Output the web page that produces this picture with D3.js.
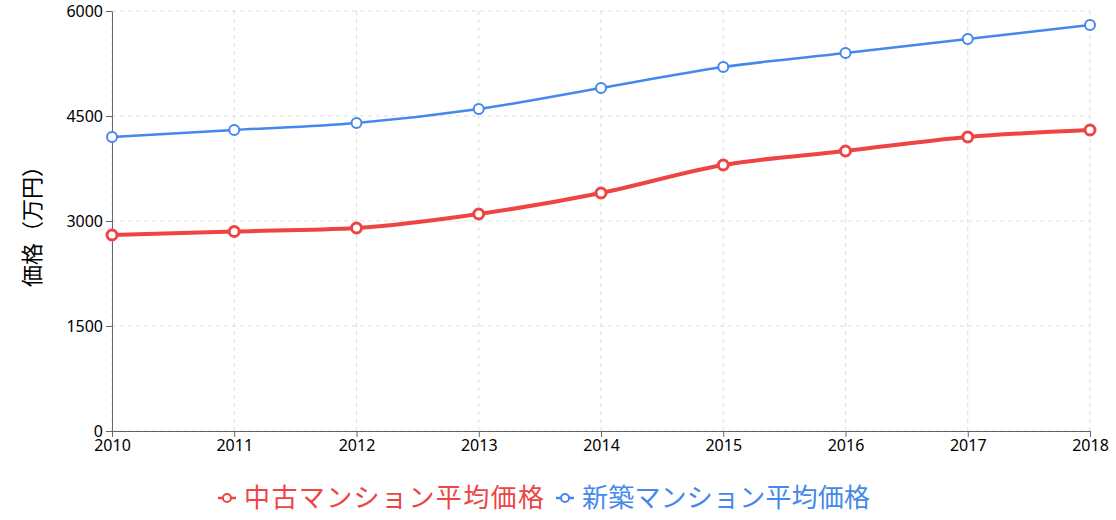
<!DOCTYPE html><html><head><meta charset="utf-8">
<script src="https://cdn.jsdelivr.net/npm/d3@7"></script>
<style>body{margin:0;background:#fff;font-family:"Noto Sans CJK JP","Noto Sans",sans-serif}</style></head><body>
<svg id="c" width="1116" height="520"></svg>
<script>
const years=["2010","2011","2012","2013","2014","2015","2016","2017","2018"];
const usedPrice=[2800,2850,2900,3100,3400,3800,4000,4200,4300];
const newPrice=[4200,4300,4400,4600,4900,5200,5400,5600,5800];
const yTicks=[0,1500,3000,4500,6000];
const seriesNames=["中古マンション平均価格","新築マンション平均価格"];
const colors=["#ee4444","#4488ee"];
const svg=d3.select("#c");
const m={l:112,r:26,t:11,b:89};
const W=1116,H=520;
const x=d3.scalePoint().domain(years).range([m.l,W-m.r]);
const y=d3.scaleLinear().domain([0,6000]).range([H-m.b,m.t]);
const g=svg.append("g");
g.selectAll(".gx").data(years).join("line").attr("x1",d=>x(d)).attr("x2",d=>x(d)).attr("y1",m.t).attr("y2",H-m.b).attr("stroke","#ddd").attr("stroke-dasharray","4,4");
g.selectAll(".gy").data(yTicks).join("line").attr("x1",m.l).attr("x2",W-m.r).attr("y1",d=>y(d)).attr("y2",d=>y(d)).attr("stroke","#ddd").attr("stroke-dasharray","4,4");
const ax=svg.append("g").attr("transform",`translate(0,${H-m.b})`).call(d3.axisBottom(x).tickSizeOuter(0));
const ay=svg.append("g").attr("transform",`translate(${m.l},0)`).call(d3.axisLeft(y).tickValues(yTicks).tickFormat(d3.format("d")).tickSizeOuter(0));
[ax,ay].forEach(a=>{a.selectAll("text").attr("font-size",16).attr("fill","#000").attr("font-family","Noto Sans,sans-serif");a.selectAll("line,path").attr("stroke","#666");});
svg.append("text").attr("transform",`translate(40,${(m.t+H-m.b)/2}) rotate(-90)`).attr("text-anchor","middle").attr("font-size",22).text("価格（万円）");
const line=d3.line().x((d,i)=>x(years[i])).y(d=>y(d)).curve(d3.curveMonotoneX);
[[newPrice,1,2.5],[usedPrice,0,4]].forEach(([data,ci,w])=>{
svg.append("path").datum(data).attr("d",line).attr("fill","none").attr("stroke",colors[ci]).attr("stroke-width",w);
svg.selectAll(null).data(data).join("circle").attr("cx",(d,i)=>x(years[i])).attr("cy",d=>y(d)).attr("r",5).attr("fill","#fff").attr("stroke",colors[ci]).attr("stroke-width",ci?2:3);
});
const lg=svg.append("g");
const lx=[218,556];
seriesNames.forEach((n,i)=>{
const gg=lg.append("g").attr("transform",`translate(${lx[i]},498)`);
gg.append("line").attr("x1",0).attr("x2",18).attr("stroke",colors[i]).attr("stroke-width",2.5);
gg.append("circle").attr("cx",9).attr("r",4).attr("fill","#fff").attr("stroke",colors[i]).attr("stroke-width",2);
gg.append("text").attr("x",26).attr("dy","0.35em").attr("font-size",26).attr("fill",colors[i]).attr("textLength",i?288:300).text(n);
});
</script></body></html>
